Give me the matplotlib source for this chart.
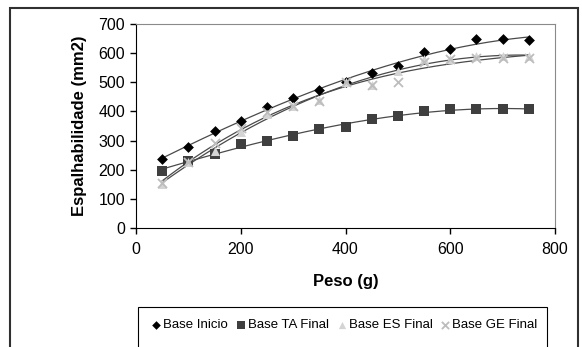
import numpy as np
import matplotlib
matplotlib.use('Agg')
import matplotlib.pyplot as plt
from matplotlib.patches import Rectangle

plt.rcParams['font.family'] = ['Liberation Sans', 'DejaVu Sans']

# data
peso = [50, 100, 150, 200, 250, 300, 350, 400, 450, 500, 550, 600, 650, 700, 750]
base_inicio = [236, 279, 333, 368, 416, 447, 473, 500, 531, 557, 603, 614, 647, 647, 645]
base_ta_final = [197, 231, 254, 288, 298, 316, 340, 348, 373, 385, 401, 408, 409, 408, 407]
base_es_final = [150, 225, 265, 330, 390, 420, 440, 500, 491, 540, 579, 580, 590, 590, 590]
base_ge_final = [155, 225, 292, 344, 398, 420, 437, 500, 491, 502, 570, 579, 585, 585, 582]

labels = ['Base Inicio', 'Base TA Final', 'Base ES Final', 'Base GE Final']
series = [base_inicio, base_ta_final, base_es_final, base_ge_final]
markers = ['D', 's', '^', 'x']
colors = ['#000000', '#3f3f3f', '#d4d4d4', '#bdbdbd']
sizes = [5.5, 7, 6.5, 6.5]

W, H = 582, 347
fig = plt.figure(figsize=(W / 100, H / 100), dpi=100)

# outer chart frame
fig.patches.append(Rectangle((10 / W, -0.2), 568 / W, 1.2 - 8 / H,
                             transform=fig.transFigure, fill=False,
                             edgecolor='#303030', linewidth=1.5))

ax = fig.add_axes([136 / W, 1 - 228 / H, 419 / W, 204 / H])

x = np.array(peso)
xs = np.linspace(50, 750, 200)
handles = []
for y, lab, m, c, s in zip(series, labels, markers, colors, sizes):
    # trendline (polynomial fit, like the spreadsheet's)
    coef = np.polyfit(x, y, 3)
    ax.plot(xs, np.polyval(coef, xs), color='#4a4a4a', linewidth=0.9, zorder=2)
    h = ax.scatter(x, y, marker=m, color=c, s=s ** 2, zorder=3,
                   linewidths=1.3 if m == 'x' else 0, label=lab)
    handles.append(h)

ax.set_xlim(0, 800)
ax.set_ylim(0, 700)
ax.set_xticks(range(0, 801, 200))
ax.set_yticks(range(0, 701, 100))
ax.tick_params(direction='out', length=4, width=1, labelsize=11.5, colors='#000000')
ax.tick_params(axis='x', pad=6)
ax.tick_params(axis='y', pad=4)
for side in ['top', 'right']:
    ax.spines[side].set_color('#8a8a8a')
for side in ['left', 'bottom']:
    ax.spines[side].set_color('#000000')
ax.set_xlabel('Peso (g)', fontsize=12, fontweight='bold', labelpad=12)
ax.set_ylabel('Espalhabilidade (mm2)', fontsize=12, fontweight='bold', labelpad=8)

# legend box, cut by the image bottom
fig.patches.append(Rectangle((138 / W, -0.1), 409 / W, 0.1 + 1 - 307 / H,
                             transform=fig.transFigure, fill=False,
                             edgecolor='#000000', linewidth=0.8))
fig.legend(handles=handles, labels=labels, ncol=4, frameon=False,
           loc='center', bbox_to_anchor=(344 / W, 1 - 325 / H),
           fontsize=9.5, handletextpad=0.1, columnspacing=0.5,
           handlelength=0.9, markerscale=0.8, borderaxespad=0)

fig.savefig('out.png', dpi=100)
